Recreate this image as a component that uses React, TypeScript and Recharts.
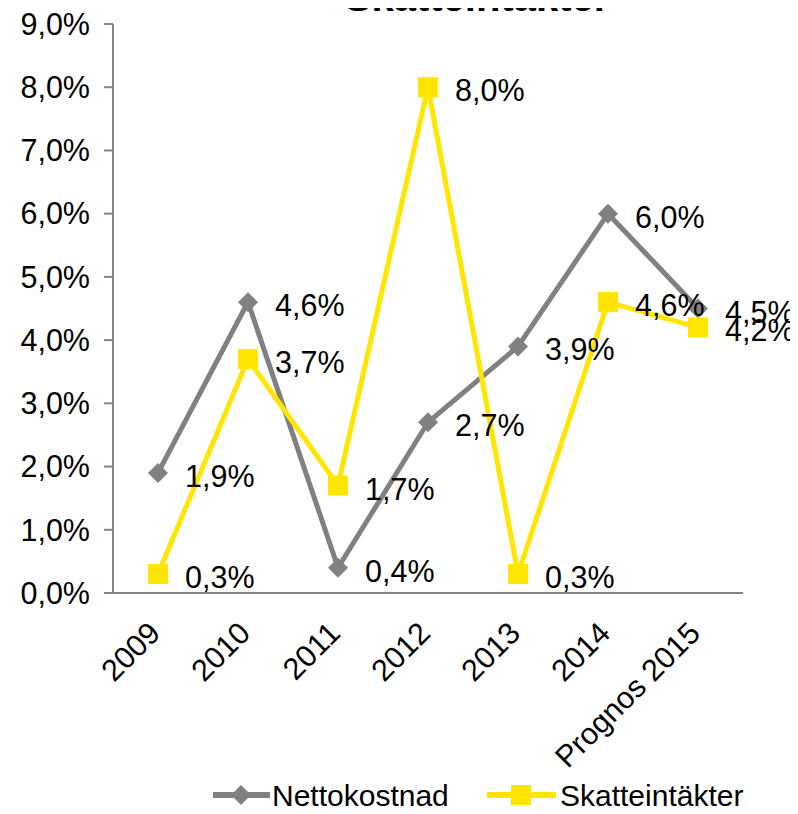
import React from 'react'
import { LineChart, Line, XAxis, YAxis, Legend, LabelList } from 'recharts'

const years = ['2009', '2010', '2011', '2012', '2013', '2014', 'Prognos 2015']
const nettokostnad = [1.9, 4.6, 0.4, 2.7, 3.9, 6.0, 4.5]
const skatteintakter = [0.3, 3.7, 1.7, 8.0, 0.3, 4.6, 4.2]
const yTicks = [0, 1, 2, 3, 4, 5, 6, 7, 8, 9]

const data = years.map((year, i) => ({
  year,
  netto: nettokostnad[i],
  skatt: skatteintakter[i],
}))

const FONT = '"Liberation Sans", Arial, sans-serif'
const GRAY = '#808080'
const YELLOW = '#FFE500'

const pct = (v: number) => `${v.toFixed(1).replace('.', ',')}%`

function Diamond({ cx, cy }: { cx?: number; cy?: number }) {
  if (cx == null || cy == null) return null
  const h = 10
  return <polygon points={`${cx},${cy - h} ${cx + h},${cy} ${cx},${cy + h} ${cx - h},${cy}`} fill={GRAY} />
}

function Square({ cx, cy }: { cx?: number; cy?: number }) {
  if (cx == null || cy == null) return null
  return <rect x={cx - 10} y={cy - 10} width={20} height={20} fill={YELLOW} />
}

function PointLabel(props: any) {
  const { x, y, value } = props
  return (
    <text x={x + 27} y={y + 3} dominantBaseline="central" fontSize={30.5} fill="#000" fontFamily={FONT}>
      {pct(value)}
    </text>
  )
}

function YearTick(props: any) {
  const { x, y, payload } = props
  return (
    <g transform={`translate(${x + 4},${y + 42})`}>
      <text transform="rotate(-45)" textAnchor="end" fontSize={30.5} fill="#000" fontFamily={FONT}>
        {payload.value}
      </text>
    </g>
  )
}

function LegendBox() {
  return (
    <svg width={798} height={40} style={{ display: 'block' }}>
      <line x1={213} x2={270} y1={21} y2={21} stroke={GRAY} strokeWidth={6} />
      <Diamond cx={241} cy={21} />
      <text x={272} y={32} fontSize={30} fontFamily={FONT} fill="#000">Nettokostnad</text>
      <line x1={487} x2={556} y1={21} y2={21} stroke={YELLOW} strokeWidth={6} />
      <Square cx={521} cy={21} />
      <text x={560} y={32} fontSize={30} fontFamily={FONT} fill="#000">Skatteintäkter</text>
    </svg>
  )
}

export default function App() {
  return (
    <div style={{ margin: -8, width: 798, height: 814, position: 'relative', background: '#fff', overflow: 'hidden' }}>
      <LineChart width={798} height={814} data={data} margin={{ top: 24, right: 55, bottom: 0, left: 0 }}>
        <text x={477} y={11} textAnchor="middle" fontSize={40} fontWeight="bold" fontFamily={FONT} fill="#000">
          Skatteintäkter
        </text>
        <XAxis
          dataKey="year"
          height={181}
          interval={0}
          padding={{ left: 45, right: 45 }}
          stroke="#868686"
          strokeWidth={2}
          tickLine={false}
          tickSize={0}
          tickMargin={0}
          tick={<YearTick />}
        />
        <YAxis
          width={113}
          domain={[0, 9]}
          ticks={yTicks}
          interval={0}
          tickFormatter={pct}
          stroke="#868686"
          strokeWidth={2}
          tickSize={9}
          tickMargin={14}
          tick={{ fontSize: 30.5, fill: '#000', fontFamily: FONT }}
        />
        <Legend verticalAlign="bottom" content={() => <LegendBox />} wrapperStyle={{ height: 40 }} />
        <Line
          dataKey="netto"
          name="Nettokostnad"
          stroke={GRAY}
          strokeWidth={5}
          dot={<Diamond />}
          activeDot={false}
          isAnimationActive={false}
        >
          <LabelList dataKey="netto" content={<PointLabel />} />
        </Line>
        <Line
          dataKey="skatt"
          name="Skatteintäkter"
          stroke={YELLOW}
          strokeWidth={5}
          dot={<Square />}
          activeDot={false}
          isAnimationActive={false}
        >
          <LabelList dataKey="skatt" content={<PointLabel />} />
        </Line>
      </LineChart>
    </div>
  )
}
